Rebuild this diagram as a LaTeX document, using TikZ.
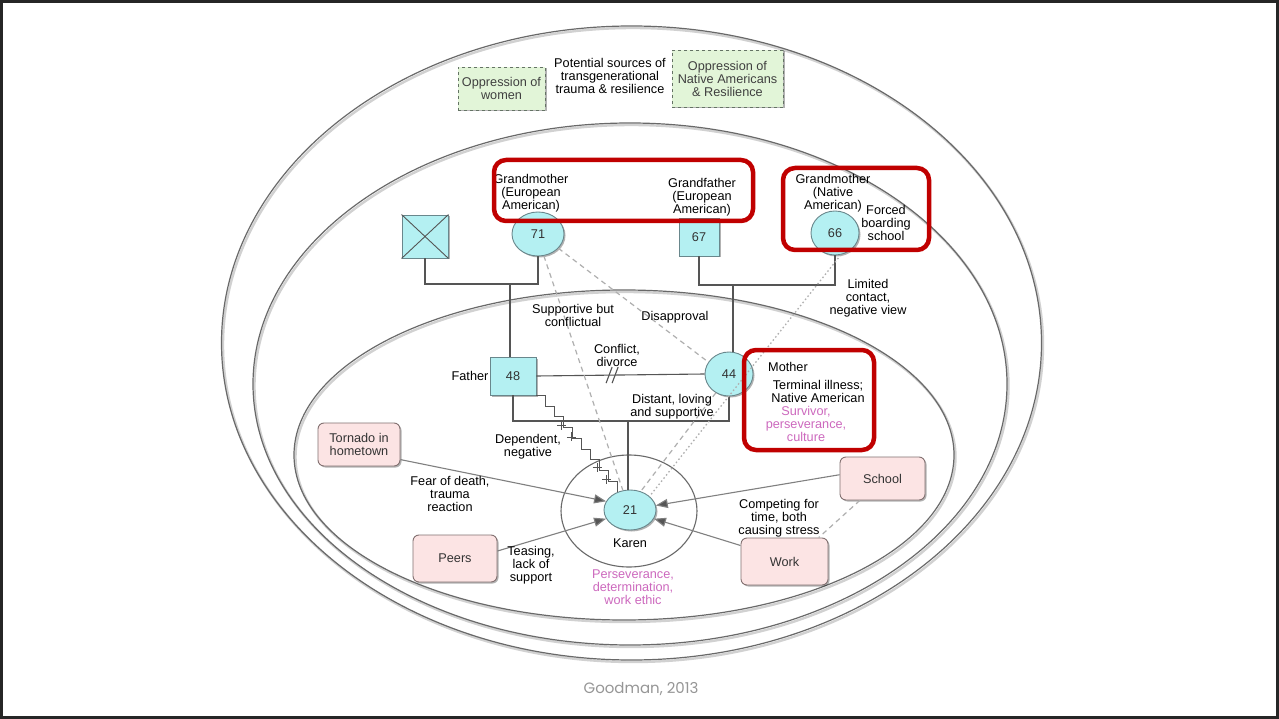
\documentclass[tikz,border=0pt]{standalone}
\usepackage{fontspec}
\setmainfont{Liberation Sans}
\newfontfamily\creditfont{Poppins}
\usetikzlibrary{shapes.geometric,arrows.meta,shadows,calc}

\definecolor{personfill}{RGB}{180,240,242}
\definecolor{personline}{RGB}{105,135,140}
\definecolor{eventfill}{RGB}{252,228,228}
\definecolor{eventline}{RGB}{130,112,112}
\definecolor{sourcefill}{RGB}{226,245,216}
\definecolor{sourceline}{RGB}{100,115,100}
\definecolor{strengthtext}{RGB}{205,105,190}
\definecolor{highlight}{RGB}{192,0,0}
\definecolor{ringline}{RGB}{105,105,105}
\definecolor{linkgray}{RGB}{85,85,85}
\definecolor{relgray}{RGB}{175,175,175}
\definecolor{creditgray}{RGB}{150,150,150}

\tikzset{
  lbl/.style={align=center, inner sep=0pt, text=black},
  strength/.style={lbl, text=strengthtext},
  softshadow/.style={drop shadow={shadow xshift=1.5pt, shadow yshift=-1.5pt, opacity=0.3, fill=black}},
  person/.style={fill=personfill, draw=personline, line width=0.9pt, inner sep=0pt, text=black!80, softshadow},
  persq/.style={person, rectangle},
  persc/.style={person, ellipse},
  event/.style={rectangle, rounded corners=6pt, fill=eventfill, draw=eventline, line width=0.9pt,
    align=center, text=black!80, softshadow},
  source/.style={rectangle, fill=sourcefill, draw=sourceline, dashed, line width=0.9pt,
    align=center, text=black!75, softshadow},
  ring/.style={draw=ringline, line width=1.2pt},
  ringshadow/.style={draw=black!18, line width=2.4pt},
  redframe/.style={draw=highlight, line width=4.5pt, rounded corners=12pt},
  famline/.style={draw=linkgray, line width=1.1pt},
  relline/.style={draw=relgray, line width=1.2pt, dash pattern=on 5pt off 4pt},
  reldots/.style={draw=relgray, line width=1.3pt, dash pattern=on 1.5pt off 2.5pt},
  arrline/.style={draw=gray, line width=1.1pt, -{Triangle[length=12pt, width=9pt, fill=linkgray]}},
}

\begin{document}
\begin{tikzpicture}[x=1pt, y=-1pt, font=\fontsize{12.7}{13}\selectfont]
\useasboundingbox (0,0) rectangle (1279,719);
\fill[white] (0,0) rectangle (1279,719);
\draw[black!85, line width=2.6pt] (1.3,1.6) rectangle (1277.7,717.4);

% nested system rings, each with a faint shadow
\draw[ringshadow] (633,345) ellipse [x radius=410pt, y radius=317pt];
\draw[ring] (631.5,343) ellipse [x radius=410pt, y radius=317pt];
\draw[ringshadow] (631.5,386) ellipse [x radius=377pt, y radius=261pt];
\draw[ring] (630,384) ellipse [x radius=377pt, y radius=261pt];
\draw[ringshadow] (625.5,457) ellipse [x radius=330pt, y radius=165pt];
\draw[ring] (624,455) ellipse [x radius=330pt, y radius=165pt];

% sources of trauma and resilience
\node[source, minimum width=87pt, minimum height=43pt] (women) at (501.5,88.5) {Oppression of\\women};
\node[lbl] (sources) at (610,76) {Potential sources of\\transgenerational\\trauma \& resilience};
\node[source, minimum width=111pt, minimum height=57pt] (native) at (727.5,78.5) {Oppression of\\Native Americans\\\& Resilience};

% grandparents
\node[persq, minimum width=46pt, minimum height=43pt] (ggf) at (425,236.5) {};
\draw[linkgray, line width=0.9pt] (ggf.north west) -- (ggf.south east) (ggf.north east) -- (ggf.south west);
\node[persc, minimum width=52pt, minimum height=44pt] (gm71) at (538,234) {71};
\node[persq, minimum width=40pt, minimum height=38pt] (gf67) at (699,237) {67};
\node[persc, minimum width=48pt, minimum height=44pt] (gm66) at (835,233) {66};

\node[lbl] (gm71lbl) at (531,193) {Grandmother\\(European\\American)};
\node[lbl] (gf67lbl) at (702,197) {Grandfather\\(European\\American)};
\node[lbl] (gm66lbl) at (833,193.5) {Grandmother\\(Native\\American)};
\node[lbl] (boarding) at (886,223) {Forced\\boarding\\school};

% parents
\node[persq, minimum width=46pt, minimum height=38pt] (fa) at (513,376) {48};
\node[persc, minimum width=48pt, minimum height=44pt] (mo) at (729,374) {44};
\node[lbl] (falbl) at (470,376) {Father};
\node[lbl, anchor=west] (molbl) at (768,367) {Mother};
\node[lbl] (moill) at (818,391.5) {Terminal illness;\\Native American};
\node[strength] (mostr) at (806,424) {Survivor,\\perseverance,\\culture};

% Karen and her immediate circle
\node[draw=ringline, line width=1.1pt, ellipse, minimum width=136pt, minimum height=112pt] (karing) at (629,511) {};
\node[persc, minimum width=52pt, minimum height=40pt] (ka) at (630,510) {21};
\node[lbl] (kalbl) at (630,543) {Karen};
\node[strength] (kastr) at (633,587) {Perseverance,\\determination,\\work ethic};

% life events
\node[event, minimum width=82pt, minimum height=43pt] (tornado) at (359,444.5) {Tornado in\\hometown};
\node[event, minimum width=84pt, minimum height=47pt] (peers) at (455,558.5) {Peers};
\node[event, minimum width=85pt, minimum height=43pt] (school) at (882.5,478.5) {School};
\node[event, minimum width=87pt, minimum height=47pt] (work) at (784.5,561.5) {Work};

% family lines
\coordinate (lc) at (510,284);
\coordinate (rc) at (733,285);
\coordinate (cc) at (628,421);
\draw[famline] (ggf.south) -- (ggf.south |- lc) -- (gm71.south |- lc) -- (gm71.south);
\draw[famline] (lc) -- (lc |- fa.north);
\draw[famline] (gf67.south) -- (gf67.south |- rc) -- (gm66.south |- rc) -- (gm66.south);
\draw[famline] (rc) -- (rc |- mo.north);
\draw[famline] (fa.south) -- (fa.south |- cc) -- (mo.south |- cc) -- (mo.south);
\draw[famline] (cc) -- (cc |- ka.north);

% divorce
\draw[famline] (fa.east) -- (mo.west);
\coordinate (div) at ($(fa.east)!0.45!(mo.west)$);
\draw[famline] (div) +(-6,8) -- +(0,-8) +(0,8) -- +(6,-8);
\node[lbl] (divlbl) at (617,355) {Conflict,\\divorce};

% emotional relationships
\draw[relline] (gm71.-75) -- (ka.110);
\draw[relline] (gm71.-35) -- (mo.150);
\draw[relline] (mo.-125) -- (ka.60);
\draw[reldots] (gm66.-75) -- (ka.35);
\draw[relline] (school.224) -- (work.35);
\node[lbl] (suplbl) at (573,315.5) {Supportive but\\conflictual};
\node[lbl] (dislbl) at (675,317) {Disapproval};
\node[lbl] (distlbl) at (672,406.5) {Distant, loving\\and supportive};
\node[lbl] (limlbl) at (868,298.5) {Limited\\contact,\\negative view};

% dependent, negative tie
\draw[famline, line width=0.9pt] (fa.south east) \foreach \i in {1,...,9} { -| ($(fa.south east)!\i/9!(ka.125)$) };
\foreach \t in {0.31,0.43,0.75,0.87}
  \draw[famline, line width=0.8pt] ($(fa.south east)!\t!(ka.125)$) +(-4.5,0) -- +(4.5,0) +(0,-4.5) -- +(0,4.5);
\node[lbl] (deplbl) at (528,446.5) {Dependent,\\negative};

% stressors acting on Karen
\draw[arrline] (tornado.-20) -- (ka.160);
\draw[arrline] (peers.10) -- (ka.-160);
\draw[arrline] (school.175) -- (ka.10);
\draw[arrline] (work.160) -- (ka.-20);
\node[lbl] (fearlbl) at (450,494) {Fear of death,\\trauma\\reaction};
\node[lbl] (teaselbl) at (531,565) {Teasing,\\lack of\\support};
\node[lbl] (complbl) at (779,518) {Competing for\\time, both\\causing stress};

% highlighted groups
\draw[redframe] (494,160) rectangle (753,221);
\draw[redframe] (783,168) rectangle (929,250);
\draw[redframe] (744,350) rectangle (874,450);

\node[text=creditgray, font=\creditfont\fontsize{15}{17}\selectfont] (credit) at (641,689) {Goodman, 2013};
\end{tikzpicture}
\end{document}
